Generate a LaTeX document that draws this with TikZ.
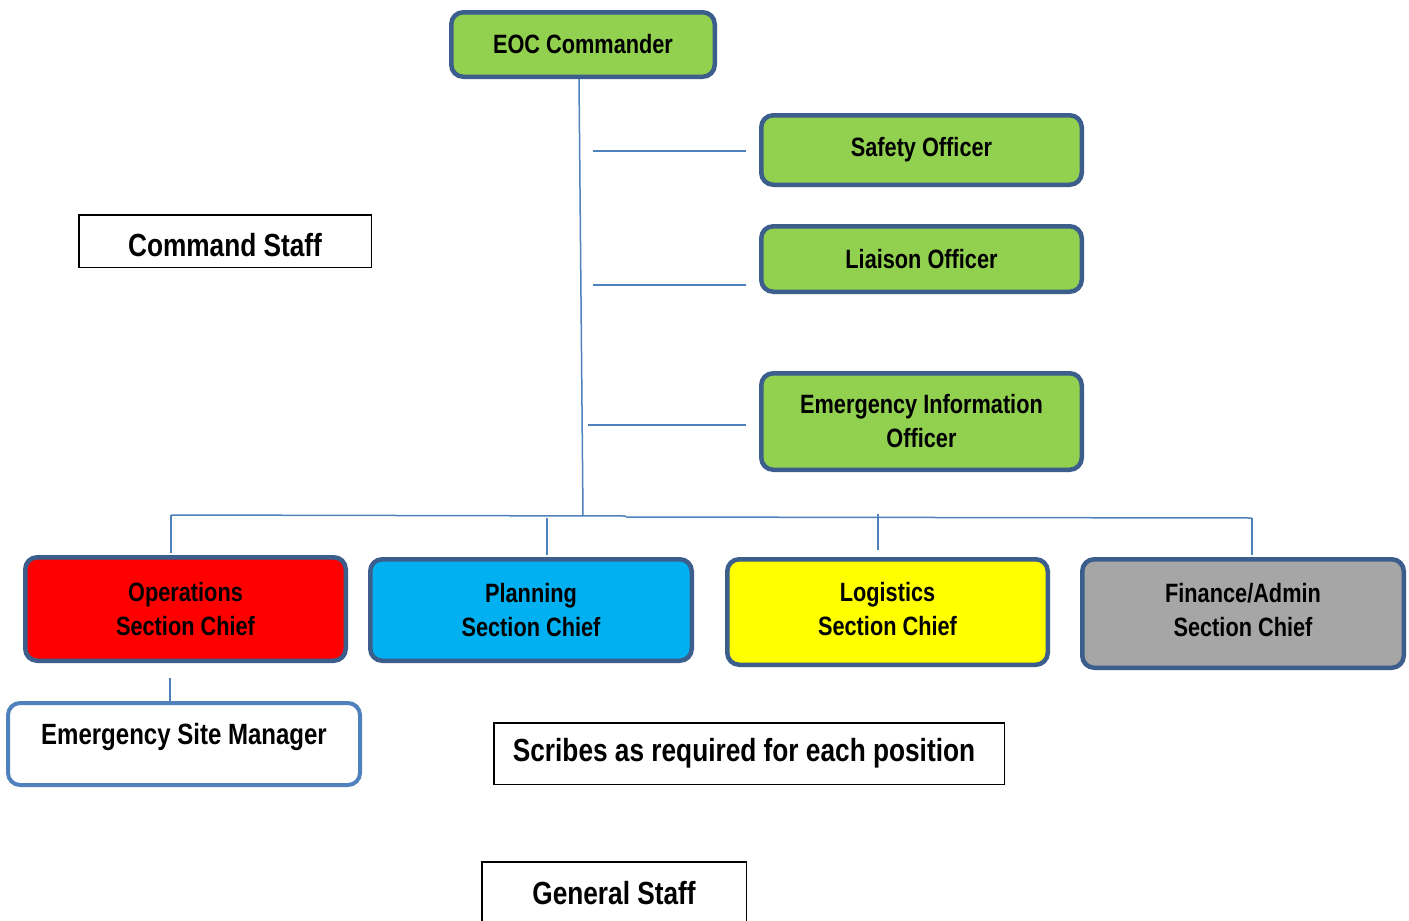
\documentclass[tikz,border=0pt]{standalone}
\usepackage{fontspec}
\setmainfont[FakeStretch=0.82]{Liberation Sans}
\definecolor{bdark}{HTML}{3B5E8C}
\definecolor{blight}{HTML}{4F81BD}
\definecolor{cgreen}{HTML}{92D050}
\definecolor{cred}{HTML}{FF0000}
\definecolor{cblue}{HTML}{00B0F0}
\definecolor{cyellow}{HTML}{FFFF00}
\definecolor{cgray}{HTML}{A6A6A6}
\begin{document}
\begin{tikzpicture}[x=1pt,y=-1pt,
  rbox/.style={draw=bdark, line width=4.5pt, rounded corners=12pt, inner sep=0pt,
    align=center, font=\fontsize{26.5}{34}\selectfont\bfseries},
  plainbox/.style={draw=black, line width=1.5pt, inner sep=0pt, align=center,
    font=\fontsize{32}{38}\selectfont\bfseries},
  conn/.style={draw=blight, line width=1.5pt}]
\useasboundingbox (0,0) rectangle (1409,921);
\clip (0,0) rectangle (1409,921);
\fill[white] (0,0) rectangle (1409,921);

% command staff
\node[rbox, fill=cgreen, minimum width=263.5pt, minimum height=64.5pt] (eoc) at (583,44.5) {EOC Commander};
\node[rbox, fill=cgreen, minimum width=320.5pt, minimum height=69.5pt] (safety) at (921.5,150) {Safety Officer};
\node[rbox, fill=cgreen, minimum width=320.5pt, minimum height=65.5pt] (liaison) at (921.5,259) {Liaison Officer};
\node[rbox, fill=cgreen, minimum width=320.5pt, minimum height=96.5pt] (eio) at (921.5,421.5) {Emergency Information\\Officer};

% general staff
\node[rbox, fill=cred, minimum width=320.5pt, minimum height=103.5pt] (ops) at (185.5,609) {Operations\\Section Chief};
\node[rbox, fill=cblue, minimum width=321.5pt, minimum height=101.5pt] (plan) at (531,610) {Planning\\Section Chief};
\node[rbox, fill=cyellow, minimum width=320.5pt, minimum height=105.5pt, text depth=6pt] (log) at (887.5,612) {Logistics\\Section Chief};
\node[rbox, fill=cgray, minimum width=321.5pt, minimum height=108.5pt, text depth=8pt] (fin) at (1243,613.5) {Finance/Admin\\Section Chief};
\node[rbox, draw=blight, line width=4pt, fill=white, minimum width=352pt, minimum height=82pt,
  text depth=20pt, font=\fontsize{29.3}{34}\selectfont\bfseries] (esm) at (184,744) {Emergency Site Manager};

% labels
\node[plainbox, minimum width=292.5pt, minimum height=52.5pt, text height=31pt] (cmdstaff) at (225,241) {Command Staff};
\node[plainbox, minimum width=510.5pt, minimum height=61.5pt, text depth=7pt] (scribes) at (749,753.5) {Scribes as required for each position\hspace*{10pt}};
\node[plainbox, minimum width=264.5pt, minimum height=80pt, text depth=18pt] (genstaff) at (614,902) {General Staff};

% connectors
\coordinate (j) at (583,516);
\draw[conn] ([xshift=-4pt]eoc.south) -- (j);
\coordinate (s1a) at (593,151); \coordinate (s1b) at (746,151);
\coordinate (s2a) at (593,285); \coordinate (s2b) at (746,285);
\coordinate (s3a) at (588,425); \coordinate (s3b) at (746,425);
\draw[conn] (s1a) -- (s1b);
\draw[conn] (s2a) -- (s2b);
\draw[conn] (s3a) -- (s3b);

\coordinate (b1) at (171,515);
\coordinate (bm1) at (626,516);
\coordinate (bm2) at (626,517);
\coordinate (b4) at (1252,518);
\draw[conn] (b1) -- (bm1);
\draw[conn] (bm2) -- (b4);
\draw[conn] (b1) -- (171,553);
\draw[conn] (547,518) -- (547,555);
\draw[conn] (878,514) -- (878,550);
\draw[conn] (b4) -- (1252,555);
\coordinate (oe) at (170,678);
\draw[conn] (oe) -- (esm.north -| oe);
\end{tikzpicture}
\end{document}
